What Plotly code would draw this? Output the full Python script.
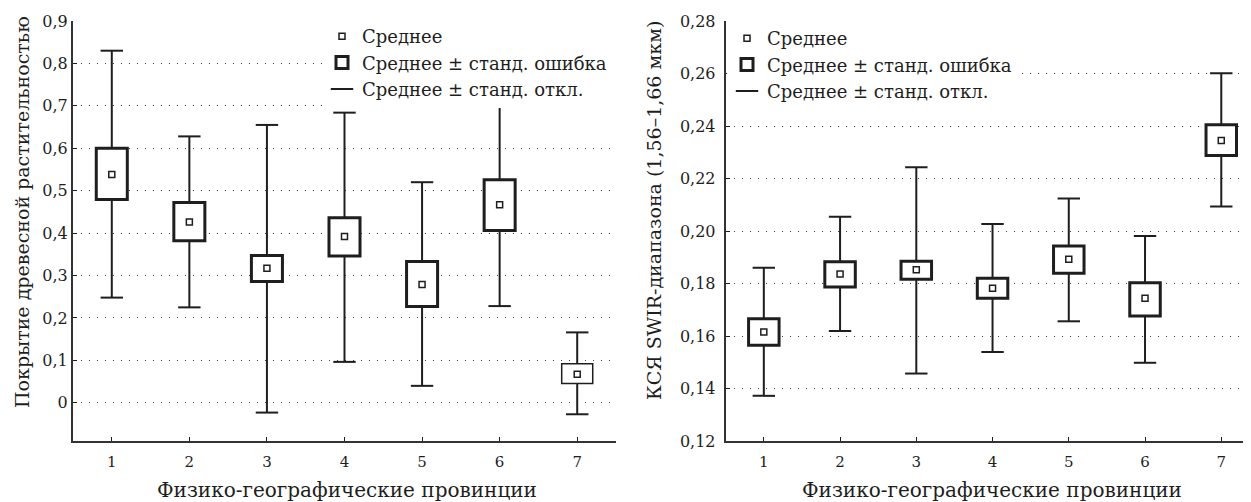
import plotly.graph_objects as go

# ---------------- data ----------------
categories = [1, 2, 3, 4, 5, 6, 7]
x_tick_labels = ["1", "2", "3", "4", "5", "6", "7"]

# Left panel: tree cover
cover_mean = [0.538, 0.426, 0.317, 0.392, 0.279, 0.467, 0.0675]
cover_se_low = [0.479, 0.382, 0.286, 0.346, 0.227, 0.406, 0.0456]
cover_se_high = [0.600, 0.472, 0.347, 0.436, 0.333, 0.526, 0.092]
cover_sd_low = [0.248, 0.225, -0.023, 0.0965, 0.040, 0.228, -0.027]
cover_sd_high = [0.830, 0.628, 0.655, 0.684, 0.520, 0.702, 0.166]
cover_ticks = [0, 0.1, 0.2, 0.3, 0.4, 0.5, 0.6, 0.7, 0.8, 0.9]
cover_tick_labels = ["0", "0,1", "0,2", "0,3", "0,4", "0,5", "0,6", "0,7", "0,8", "0,9"]

# Right panel: SWIR reflectance
swir_mean = [0.1615, 0.1836, 0.1852, 0.1782, 0.1892, 0.1744, 0.2345]
swir_se_low = [0.1565, 0.1787, 0.1816, 0.1744, 0.1839, 0.1676, 0.2288]
swir_se_high = [0.1666, 0.1883, 0.1885, 0.1820, 0.1943, 0.1803, 0.2405]
swir_sd_low = [0.1372, 0.1619, 0.1457, 0.1539, 0.1656, 0.1498, 0.2093]
swir_sd_high = [0.1860, 0.2054, 0.2243, 0.2027, 0.2124, 0.1981, 0.2601]
swir_ticks = [0.12, 0.14, 0.16, 0.18, 0.20, 0.22, 0.24, 0.26, 0.28]
swir_tick_labels = ["0,12", "0,14", "0,16", "0,18", "0,20", "0,22", "0,24", "0,26", "0,28"]

legend_names = ["Среднее", "Среднее ± станд. ошибка", "Среднее ± станд. откл."]

# ---------------- style ----------------
INK = "#1e1e1e"
FONT = "DejaVu Serif"
PAGE_OFF = 8                      # default body margin of the html page
FW, FH = 1251 - PAGE_OFF, 502 - PAGE_OFF


def px(x):
    return (x - PAGE_OFF) / FW


def py(y):
    return 1 - (y - PAGE_OFF) / FH


def whiskers(cats, sd_lo, se_lo, se_hi, sd_hi):
    xs, ys = [], []
    for c, a, b, d, e in zip(cats, sd_lo, se_lo, se_hi, sd_hi):
        xs += [c, c, None, c, c, None]
        ys += [a, b, None, d, e, None]
    return xs, ys


fig = go.Figure()


def add_panel(xa, ya, leg, mean, se_lo, se_hi, sd_lo, sd_hi, box_lw):
    wx, wy = whiskers(categories, sd_lo, se_lo, se_hi, sd_hi)
    fig.add_trace(go.Scatter(x=wx, y=wy, mode="lines", xaxis=xa, yaxis=ya,
                             line=dict(color=INK, width=2), showlegend=False,
                             hoverinfo="skip"))
    fig.add_trace(go.Scatter(x=categories + categories, y=sd_lo + sd_hi, mode="markers",
                             xaxis=xa, yaxis=ya, legend=leg, name=legend_names[2],
                             legendrank=3,
                             marker=dict(symbol="line-ew-open", size=16, color=INK,
                                         line=dict(color=INK, width=2))))
    fig.add_trace(go.Bar(x=categories, base=se_lo,
                         y=[h - l for h, l in zip(se_hi, se_lo)],
                         width=0.4, xaxis=xa, yaxis=ya, legend=leg,
                         name=legend_names[1], legendrank=2,
                         marker=dict(color="white", line=dict(color=INK, width=box_lw))))
    fig.add_trace(go.Scatter(x=categories, y=mean, mode="markers", xaxis=xa, yaxis=ya,
                             legend=leg, name=legend_names[0], legendrank=1,
                             marker=dict(symbol="square", size=6, color="white",
                                         line=dict(color=INK, width=1.5))))


add_panel("x", "y", "legend", cover_mean, cover_se_low, cover_se_high,
          cover_sd_low, cover_sd_high, [3, 3, 3, 3, 3, 3, 1.5])
add_panel("x2", "y2", "legend2", swir_mean, swir_se_low, swir_se_high,
          swir_sd_low, swir_sd_high, 3)

ydom = [py(441), py(21)]
xdom1 = [px(73), px(616)]
xdom2 = [px(725.7), 1.0]

tickfont_x = dict(family=FONT, size=15, color=INK)
tickfont_y = dict(family=FONT, size=16, color=INK)

common_x = dict(tickvals=categories, ticktext=x_tick_labels, ticks="inside", ticklen=4,
                tickcolor=INK, showgrid=False, zeroline=False, showline=True,
                linecolor="#333", linewidth=2, tickfont=tickfont_x, automargin=False,
                fixedrange=True, ticklabelstandoff=6)
common_y = dict(ticks="inside", ticklen=4, tickcolor=INK, showgrid=True,
                gridcolor="#444", griddash="1px,7px", gridwidth=1, zeroline=False,
                showline=True, linecolor="#333", linewidth=2, tickfont=tickfont_y,
                automargin=False, fixedrange=True)

border_x = dict(tickvals=categories, ticks="inside", ticklen=4, tickcolor=INK,
                showticklabels=False, showgrid=False, zeroline=False, showline=True,
                linecolor="#333", linewidth=1, side="top")

fig.update_layout(
    width=FW, height=FH, margin=dict(l=0, r=0, t=0, b=0),
    paper_bgcolor="white", plot_bgcolor="white", barmode="overlay",
    font=dict(family=FONT, color=INK),
    xaxis=dict(domain=xdom1, range=[0.5, 7.5], anchor="y", **common_x),
    yaxis=dict(domain=ydom, range=[-0.09, 0.9], anchor="x", tickvals=cover_ticks,
               ticktext=cover_tick_labels, **common_y),
    xaxis2=dict(domain=xdom2, range=[0.5, 7.39], anchor="y2", **common_x),
    yaxis2=dict(domain=ydom, range=[0.12, 0.28], anchor="x2", tickvals=swir_ticks,
                ticktext=swir_tick_labels, ticklabelstandoff=5, **common_y),
    xaxis3=dict(overlaying="x", anchor="y", range=[0.5, 7.5], **border_x),
    yaxis3=dict(overlaying="y", anchor="x", side="right", range=[-0.09, 0.9],
                tickvals=cover_ticks, ticks="inside", ticklen=4, tickcolor=INK,
                showticklabels=False, showgrid=False, zeroline=False, showline=True,
                linecolor="#333", linewidth=1),
    xaxis4=dict(overlaying="x2", anchor="y2", range=[0.5, 7.39], **border_x),
    legend=dict(x=px(322), y=py(18), xanchor="left", yanchor="top",
                bgcolor="white", font=dict(family=FONT, size=18, color=INK),
                itemwidth=30, borderwidth=0, tracegroupgap=0),
    legend2=dict(x=px(727), y=py(20), xanchor="left", yanchor="top",
                 bgcolor="white", font=dict(family=FONT, size=18, color=INK),
                 itemwidth=30, borderwidth=0, tracegroupgap=0),
    showlegend=True,
    annotations=[
        dict(text="Покрытие древесной растительностью", x=px(22), y=py(212),
             xref="paper", yref="paper", xanchor="center", yanchor="middle",
             textangle=-90, showarrow=False,
             font=dict(family=FONT, size=19, color=INK)),
        dict(text="КСЯ SWIR-диапазона (1,56–1,66 мкм)", x=px(654), y=py(211),
             xref="paper", yref="paper", xanchor="center", yanchor="middle",
             textangle=-90, showarrow=False,
             font=dict(family=FONT, size=19, color=INK)),
        dict(text="Физико-географические провинции", x=px(347), y=py(490),
             xref="paper", yref="paper", xanchor="center", yanchor="middle",
             showarrow=False, font=dict(family=FONT, size=20, color=INK)),
        dict(text="Физико-географические провинции", x=px(992), y=py(490),
             xref="paper", yref="paper", xanchor="center", yanchor="middle",
             showarrow=False, font=dict(family=FONT, size=20, color=INK)),
    ],
)

fig.write_html("out.html")
